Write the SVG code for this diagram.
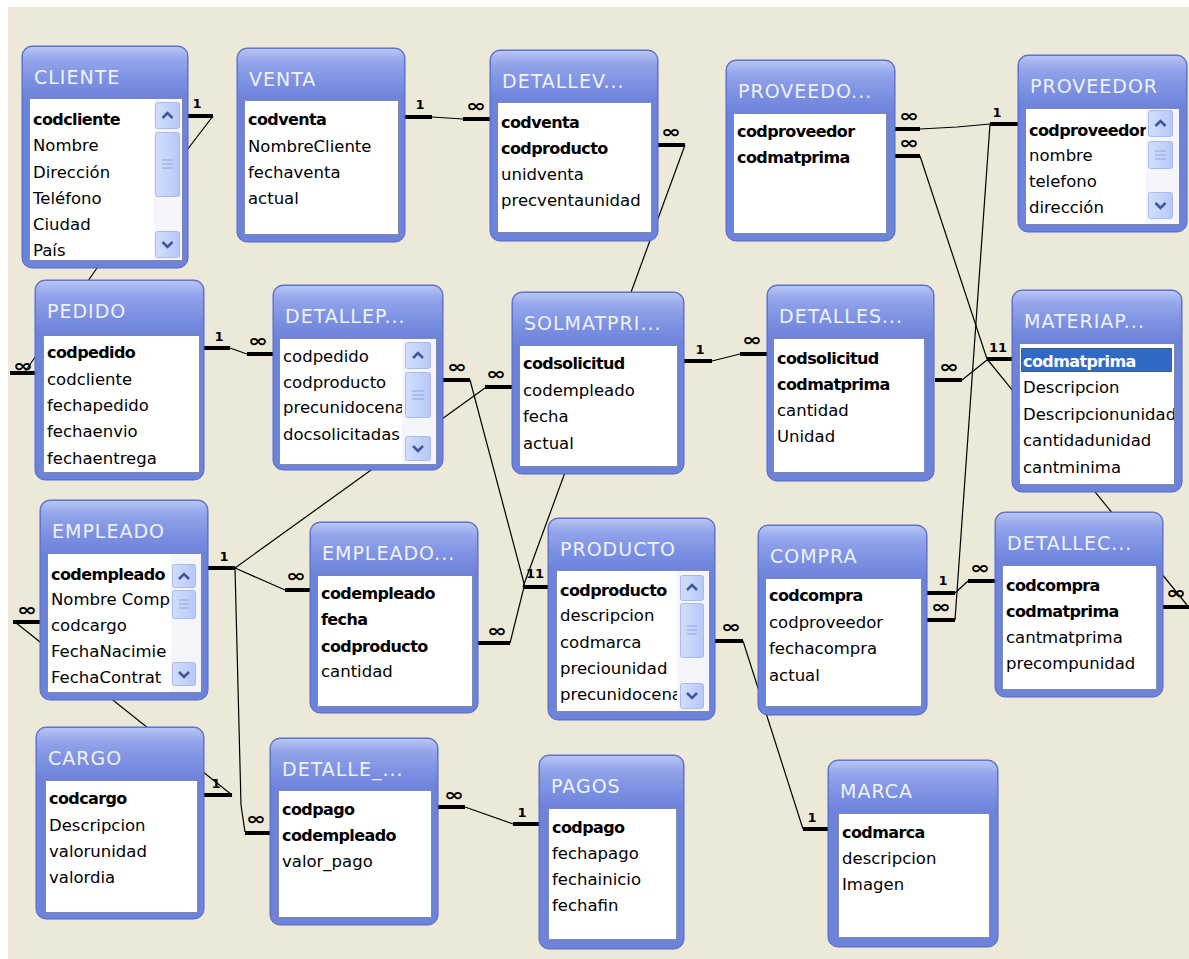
<svg xmlns="http://www.w3.org/2000/svg" width="1189" height="959" viewBox="0 0 1189 959">
<defs>
<linearGradient id="hg" x1="0" y1="0" x2="0" y2="1">
<stop offset="0" stop-color="#B9C5F4"/>
<stop offset="0.25" stop-color="#93A4EA"/>
<stop offset="0.7" stop-color="#7A8EE1"/>
<stop offset="1" stop-color="#6D82D9"/>
</linearGradient>
<linearGradient id="bg2" x1="0" y1="0" x2="1" y2="0">
<stop offset="0" stop-color="#D3DEFC"/>
<stop offset="1" stop-color="#B7C8F6"/>
</linearGradient>
<clipPath id="cm"><rect x="1020" y="344" width="154" height="140"/></clipPath>
<style>
.frame{fill:#6D82D9;stroke:#5569C6;stroke-width:1}
.hdr{fill:url(#hg)}
.inner{fill:#fff;stroke:#7F88AE;stroke-width:1}
.ttl{font-family:"DejaVu Sans",sans-serif;font-size:19px;letter-spacing:1px;fill:#EEF2FF}
.f{font-family:"DejaVu Sans",sans-serif;font-size:16.5px;fill:#000}
.k{font-weight:bold;font-size:16px;letter-spacing:-0.6px}
.trk{fill:#F4F6FC}
.btn{fill:url(#bg2);stroke:#A9BBEE;stroke-width:1}
.chev{fill:none;stroke:#3F55A0;stroke-width:2.5}
.grip{stroke:#8FA3DF;stroke-width:1}
.ln{fill:none;stroke:#000;stroke-width:1.2}
.stub{stroke:#000;stroke-width:4}
.one{font-family:"DejaVu Sans",sans-serif;font-weight:bold;font-size:13px;fill:#000;text-anchor:middle}
.many{font-family:"DejaVu Sans",sans-serif;font-weight:bold;font-size:18px;fill:#000;text-anchor:middle}
</style>
</defs>
<rect x="0" y="0" width="1189" height="959" fill="#fff"/>
<rect x="8" y="7" width="1181" height="952" fill="#ECE9D8"/>

<g id="connectors">
<polyline class="ln" points="213,116 97,268 24,373"/>
<line class="stub" x1="188" y1="116" x2="213" y2="116"/>
<text class="one" x="197" y="108">1</text>
<line class="stub" x1="10" y1="373" x2="36" y2="373"/>
<text class="many" x="23" y="372" textLength="20" lengthAdjust="spacingAndGlyphs">∞</text>

<line class="ln" x1="432" y1="117" x2="463" y2="119"/>
<line class="stub" x1="405" y1="117" x2="432" y2="117"/>
<text class="one" x="420" y="109">1</text>
<line class="stub" x1="463" y1="119" x2="490" y2="119"/>
<text class="many" x="476" y="112" textLength="20" lengthAdjust="spacingAndGlyphs">∞</text>

<line class="ln" x1="685" y1="145" x2="523" y2="587"/>
<line class="stub" x1="658" y1="145" x2="685" y2="145"/>
<text class="many" x="671" y="138" textLength="20" lengthAdjust="spacingAndGlyphs">∞</text>

<line class="ln" x1="470" y1="380" x2="525" y2="587"/>
<line class="stub" x1="443" y1="380" x2="470" y2="380"/>
<text class="many" x="457" y="373" textLength="20" lengthAdjust="spacingAndGlyphs">∞</text>

<line class="ln" x1="510" y1="643" x2="524" y2="587"/>
<line class="stub" x1="478" y1="643" x2="510" y2="643"/>
<text class="many" x="497" y="637" textLength="20" lengthAdjust="spacingAndGlyphs">∞</text>
<line class="stub" x1="523" y1="587" x2="548" y2="587"/>
<text class="one" x="535" y="578">11</text>

<line class="ln" x1="230" y1="348" x2="247" y2="354"/>
<line class="stub" x1="204" y1="348" x2="230" y2="348"/>
<text class="one" x="219" y="341">1</text>
<line class="stub" x1="247" y1="354" x2="273" y2="354"/>
<text class="many" x="258" y="347" textLength="20" lengthAdjust="spacingAndGlyphs">∞</text>

<line class="ln" x1="485" y1="388" x2="235" y2="568"/>
<line class="stub" x1="485" y1="387" x2="512" y2="387"/>
<text class="many" x="496" y="380" textLength="20" lengthAdjust="spacingAndGlyphs">∞</text>
<line class="stub" x1="208" y1="568" x2="235" y2="568"/>
<text class="one" x="224" y="561">1</text>

<line class="ln" x1="235" y1="568" x2="285" y2="590"/>
<line class="stub" x1="285" y1="590" x2="310" y2="590"/>
<text class="many" x="296" y="582" textLength="20" lengthAdjust="spacingAndGlyphs">∞</text>

<polyline class="ln" points="235,568 241,805 245,832"/>
<line class="stub" x1="245" y1="833" x2="270" y2="833"/>
<text class="many" x="256" y="825" textLength="20" lengthAdjust="spacingAndGlyphs">∞</text>

<line class="ln" x1="15" y1="622" x2="232" y2="795"/>
<line class="stub" x1="204" y1="795" x2="232" y2="795"/>
<text class="one" x="216" y="788">1</text>
<line class="stub" x1="13" y1="622" x2="40" y2="622"/>
<text class="many" x="27" y="616" textLength="20" lengthAdjust="spacingAndGlyphs">∞</text>

<line class="ln" x1="712" y1="361" x2="740" y2="354"/>
<line class="stub" x1="684" y1="361" x2="712" y2="361"/>
<text class="one" x="700" y="354">1</text>
<line class="stub" x1="740" y1="354" x2="767" y2="354"/>
<text class="many" x="752" y="346" textLength="20" lengthAdjust="spacingAndGlyphs">∞</text>

<line class="ln" x1="962" y1="380" x2="987" y2="360"/>
<line class="ln" x1="920" y1="156" x2="987" y2="359"/>
<line class="ln" x1="987" y1="359" x2="1187" y2="605"/>
<line class="stub" x1="935" y1="380" x2="962" y2="380"/>
<text class="many" x="949" y="373" textLength="20" lengthAdjust="spacingAndGlyphs">∞</text>
<line class="stub" x1="987" y1="359" x2="1012" y2="359"/>
<text class="one" x="998" y="352">11</text>

<line class="stub" x1="895" y1="156" x2="920" y2="156"/>
<text class="many" x="909" y="149" textLength="20" lengthAdjust="spacingAndGlyphs">∞</text>
<polyline class="ln" points="920,129 957,127 990,124"/>
<line class="stub" x1="895" y1="129" x2="920" y2="129"/>
<text class="many" x="909" y="122" textLength="20" lengthAdjust="spacingAndGlyphs">∞</text>
<line class="stub" x1="990" y1="124" x2="1018" y2="124"/>
<text class="one" x="997" y="117">1</text>

<line class="ln" x1="990" y1="124" x2="955" y2="620"/>
<line class="stub" x1="927" y1="620" x2="955" y2="620"/>
<text class="many" x="941" y="613" textLength="20" lengthAdjust="spacingAndGlyphs">∞</text>

<line class="ln" x1="955" y1="593" x2="968" y2="581"/>
<line class="stub" x1="927" y1="593" x2="955" y2="593"/>
<text class="one" x="943" y="585">1</text>
<line class="stub" x1="968" y1="581" x2="995" y2="581"/>
<text class="many" x="980" y="574" textLength="20" lengthAdjust="spacingAndGlyphs">∞</text>

<line class="stub" x1="1163" y1="607" x2="1189" y2="607"/>
<text class="many" x="1176" y="599" textLength="20" lengthAdjust="spacingAndGlyphs">∞</text>

<line class="ln" x1="743" y1="641" x2="803" y2="829"/>
<line class="stub" x1="715" y1="641" x2="743" y2="641"/>
<text class="many" x="731" y="633" textLength="20" lengthAdjust="spacingAndGlyphs">∞</text>
<line class="stub" x1="803" y1="829" x2="828" y2="829"/>
<text class="one" x="812" y="822">1</text>

<line class="ln" x1="465" y1="807" x2="513" y2="824"/>
<line class="stub" x1="438" y1="807" x2="465" y2="807"/>
<text class="many" x="454" y="801" textLength="20" lengthAdjust="spacingAndGlyphs">∞</text>
<line class="stub" x1="513" y1="824" x2="539" y2="824"/>
<text class="one" x="522" y="817">1</text>
</g>

<g id="t-cliente">
<rect class="frame" x="22" y="46" width="166" height="222" rx="10"/>
<rect class="hdr" x="23" y="47" width="164" height="51" rx="9"/>
<text class="ttl" x="34" y="84">CLIENTE</text>
<rect class="inner" x="29.5" y="98.5" width="153" height="162"/>
<text class="f k" x="33" y="125">codcliente</text>
<text class="f" x="33" y="151">Nombre</text>
<text class="f" x="33" y="178">Dirección</text>
<text class="f" x="33" y="204">Teléfono</text>
<text class="f" x="33" y="230">Ciudad</text>
<text class="f" x="33" y="256">País</text>
<rect class="trk" x="154" y="99" width="28" height="161"/>
<rect class="btn" x="155.5" y="102.5" width="24" height="26" rx="2"/>
<path class="chev" d="M162.5,118 L167.5,113 L172.5,118"/>
<rect class="btn" x="155.5" y="132.5" width="24" height="64" rx="2"/>
<path class="grip" d="M162,160H173M162,164H173M162,168H173"/>
<rect class="btn" x="155.5" y="231.5" width="24" height="26" rx="2"/>
<path class="chev" d="M162.5,242 L167.5,247 L172.5,242"/>
</g>

<g id="t-venta">
<rect class="frame" x="237" y="48" width="168" height="194" rx="10"/>
<rect class="hdr" x="238" y="49" width="166" height="51" rx="9"/>
<text class="ttl" x="249" y="86">VENTA</text>
<rect class="inner" x="244.5" y="100.5" width="154" height="134"/>
<text class="f k" x="248" y="125">codventa</text>
<text class="f" x="248" y="152">NombreCliente</text>
<text class="f" x="248" y="178">fechaventa</text>
<text class="f" x="248" y="204">actual</text>
</g>

<g id="t-detallev">
<rect class="frame" x="490" y="50" width="168" height="191" rx="10"/>
<rect class="hdr" x="491" y="51" width="166" height="51" rx="9"/>
<text class="ttl" x="502" y="88">DETALLEV...</text>
<rect class="inner" x="497.5" y="102.5" width="154" height="130"/>
<text class="f k" x="501" y="128">codventa</text>
<text class="f k" x="501" y="154">codproducto</text>
<text class="f" x="501" y="180">unidventa</text>
<text class="f" x="501" y="206">precventaunidad</text>
</g>

<g id="t-proveedo">
<rect class="frame" x="726" y="60" width="169" height="181" rx="10"/>
<rect class="hdr" x="727" y="61" width="167" height="52" rx="9"/>
<text class="ttl" x="738" y="98">PROVEEDO...</text>
<rect class="inner" x="733.5" y="113.5" width="153" height="120"/>
<text class="f k" x="737" y="137">codproveedor</text>
<text class="f k" x="737" y="163">codmatprima</text>
</g>

<g id="t-proveedor">
<rect class="frame" x="1018" y="55" width="169" height="177" rx="10"/>
<rect class="hdr" x="1019" y="56" width="167" height="52" rx="9"/>
<text class="ttl" x="1030" y="93">PROVEEDOR</text>
<rect class="inner" x="1025.5" y="108.5" width="154" height="116"/>
<text class="f k" x="1029" y="136">codproveedor</text>
<text class="f" x="1029" y="161">nombre</text>
<text class="f" x="1029" y="187">telefono</text>
<text class="f" x="1029" y="213">dirección</text>
<rect class="trk" x="1146" y="109" width="33" height="115"/>
<rect class="btn" x="1148.5" y="110.5" width="24" height="26" rx="2"/>
<path class="chev" d="M1155.5,126 L1160.5,121 L1165.5,126"/>
<rect class="btn" x="1148.5" y="141.5" width="24" height="27" rx="2"/>
<path class="grip" d="M1155,151H1166M1155,155H1166M1155,159H1166"/>
<rect class="btn" x="1148.5" y="192.5" width="24" height="26" rx="2"/>
<path class="chev" d="M1155.5,203 L1160.5,208 L1165.5,203"/>
</g>

<g id="t-pedido">
<rect class="frame" x="35" y="280" width="169" height="200" rx="10"/>
<rect class="hdr" x="36" y="281" width="167" height="54" rx="9"/>
<text class="ttl" x="47" y="318">PEDIDO</text>
<rect class="inner" x="43.5" y="335.5" width="156" height="137"/>
<text class="f k" x="47" y="358">codpedido</text>
<text class="f" x="47" y="385">codcliente</text>
<text class="f" x="47" y="411">fechapedido</text>
<text class="f" x="47" y="437">fechaenvio</text>
<text class="f" x="47" y="464">fechaentrega</text>
</g>

<g id="t-detallep">
<rect class="frame" x="273" y="285" width="170" height="185" rx="10"/>
<rect class="hdr" x="274" y="286" width="168" height="52" rx="9"/>
<text class="ttl" x="285" y="323">DETALLEP...</text>
<rect class="inner" x="279.5" y="338.5" width="157" height="126"/>
<text class="f" x="283" y="362">codpedido</text>
<text class="f" x="283" y="388">codproducto</text>
<text class="f" x="283" y="413">precunidocena</text>
<text class="f" x="283" y="440">docsolicitadas</text>
<rect class="trk" x="402" y="339" width="34" height="125"/>
<rect class="btn" x="405.5" y="342.5" width="25" height="26" rx="2"/>
<path class="chev" d="M413,358 L418,353 L423,358"/>
<rect class="btn" x="405.5" y="372.5" width="25" height="45" rx="2"/>
<path class="grip" d="M412,391H424M412,395H424M412,399H424"/>
<rect class="btn" x="405.5" y="436.5" width="25" height="24" rx="2"/>
<path class="chev" d="M413,446 L418,451 L423,446"/>
</g>

<g id="t-solmatpri">
<rect class="frame" x="512" y="292" width="172" height="182" rx="10"/>
<rect class="hdr" x="513" y="293" width="170" height="52" rx="9"/>
<text class="ttl" x="524" y="330">SOLMATPRI...</text>
<rect class="inner" x="519.5" y="345.5" width="158" height="121"/>
<text class="f k" x="523" y="369">codsolicitud</text>
<text class="f" x="523" y="396">codempleado</text>
<text class="f" x="523" y="422">fecha</text>
<text class="f" x="523" y="449">actual</text>
</g>

<g id="t-detalles">
<rect class="frame" x="767" y="285" width="167" height="196" rx="10"/>
<rect class="hdr" x="768" y="286" width="165" height="52" rx="9"/>
<text class="ttl" x="779" y="323">DETALLES...</text>
<rect class="inner" x="773.5" y="338.5" width="151" height="134"/>
<text class="f k" x="777" y="364">codsolicitud</text>
<text class="f k" x="777" y="390">codmatprima</text>
<text class="f" x="777" y="416">cantidad</text>
<text class="f" x="777" y="442">Unidad</text>
</g>

<g id="t-materiap">
<rect class="frame" x="1012" y="290" width="170" height="202" rx="10"/>
<rect class="hdr" x="1013" y="291" width="168" height="52" rx="9"/>
<text class="ttl" x="1024" y="328">MATERIAP...</text>
<rect class="inner" x="1019.5" y="343.5" width="155" height="141"/>
<rect x="1021.5" y="348.5" width="150" height="23" fill="#316AC5" stroke="#000" stroke-dasharray="1,1"/>
<g clip-path="url(#cm)">
<text class="f k" x="1023" y="367" style="fill:#fff">codmatprima</text>
<text class="f" x="1023" y="393">Descripcion</text>
<text class="f" x="1023" y="420">Descripcionunidad</text>
<text class="f" x="1023" y="446">cantidadunidad</text>
<text class="f" x="1023" y="473">cantminima</text>
</g>
</g>

<g id="t-empleado">
<rect class="frame" x="40" y="500" width="168" height="200" rx="10"/>
<rect class="hdr" x="41" y="501" width="166" height="52" rx="9"/>
<text class="ttl" x="52" y="538">EMPLEADO</text>
<rect class="inner" x="47.5" y="553.5" width="154" height="139"/>
<text class="f k" x="51" y="580">codempleado</text>
<text class="f" x="51" y="605">Nombre Comp</text>
<text class="f" x="51" y="631">codcargo</text>
<text class="f" x="51" y="657">FechaNacimie</text>
<text class="f" x="51" y="683">FechaContrat</text>
<rect class="trk" x="171" y="554" width="30" height="138"/>
<rect class="btn" x="172.5" y="564.5" width="23" height="23" rx="2"/>
<path class="chev" d="M179,579 L184,574 L189,579"/>
<rect class="btn" x="172.5" y="590.5" width="23" height="28" rx="2"/>
<path class="grip" d="M179,600H189M179,604H189M179,608H189"/>
<rect class="btn" x="172.5" y="662.5" width="23" height="23" rx="2"/>
<path class="chev" d="M179,672 L184,677 L189,672"/>
</g>

<g id="t-empleado2">
<rect class="frame" x="310" y="522" width="168" height="191" rx="10"/>
<rect class="hdr" x="311" y="523" width="166" height="52" rx="9"/>
<text class="ttl" x="322" y="560">EMPLEADO...</text>
<rect class="inner" x="317.5" y="575.5" width="155" height="131"/>
<text class="f k" x="321" y="599">codempleado</text>
<text class="f k" x="321" y="625">fecha</text>
<text class="f k" x="321" y="652">codproducto</text>
<text class="f" x="321" y="677">cantidad</text>
</g>

<g id="t-producto">
<rect class="frame" x="548" y="518" width="167" height="202" rx="10"/>
<rect class="hdr" x="549" y="519" width="165" height="51" rx="9"/>
<text class="ttl" x="560" y="556">PRODUCTO</text>
<rect class="inner" x="556.5" y="570.5" width="153" height="141"/>
<text class="f k" x="560" y="596">codproducto</text>
<text class="f" x="560" y="621">descripcion</text>
<text class="f" x="560" y="648">codmarca</text>
<text class="f" x="560" y="674">preciounidad</text>
<text class="f" x="560" y="700">precunidocena</text>
<rect class="trk" x="677" y="571" width="32" height="140"/>
<rect class="btn" x="680.5" y="575.5" width="23" height="25" rx="2"/>
<path class="chev" d="M687,590 L692,585 L697,590"/>
<rect class="btn" x="680.5" y="603.5" width="23" height="54" rx="2"/>
<path class="grip" d="M687,626H697M687,630H697M687,634H697"/>
<rect class="btn" x="680.5" y="683.5" width="23" height="25" rx="2"/>
<path class="chev" d="M687,693 L692,698 L697,693"/>
</g>

<g id="t-compra">
<rect class="frame" x="758" y="525" width="169" height="190" rx="10"/>
<rect class="hdr" x="759" y="526" width="167" height="52" rx="9"/>
<text class="ttl" x="770" y="563">COMPRA</text>
<rect class="inner" x="765.5" y="578.5" width="156" height="128"/>
<text class="f k" x="769" y="601">codcompra</text>
<text class="f" x="769" y="628">codproveedor</text>
<text class="f" x="769" y="654">fechacompra</text>
<text class="f" x="769" y="681">actual</text>
</g>

<g id="t-detallec">
<rect class="frame" x="995" y="512" width="168" height="185" rx="10"/>
<rect class="hdr" x="996" y="513" width="166" height="52" rx="9"/>
<text class="ttl" x="1007" y="550">DETALLEC...</text>
<rect class="inner" x="1002.5" y="565.5" width="154" height="124"/>
<text class="f k" x="1006" y="591">codcompra</text>
<text class="f k" x="1006" y="617">codmatprima</text>
<text class="f" x="1006" y="643">cantmatprima</text>
<text class="f" x="1006" y="669">precompunidad</text>
</g>

<g id="t-cargo">
<rect class="frame" x="36" y="727" width="168" height="192" rx="10"/>
<rect class="hdr" x="37" y="728" width="166" height="52" rx="9"/>
<text class="ttl" x="48" y="765">CARGO</text>
<rect class="inner" x="45.5" y="780.5" width="152" height="132"/>
<text class="f k" x="49" y="804">codcargo</text>
<text class="f" x="49" y="831">Descripcion</text>
<text class="f" x="49" y="857">valorunidad</text>
<text class="f" x="49" y="883">valordia</text>
</g>

<g id="t-detalle-pago">
<rect class="frame" x="270" y="738" width="168" height="187" rx="10"/>
<rect class="hdr" x="271" y="739" width="166" height="51" rx="9"/>
<text class="ttl" x="282" y="776">DETALLE_...</text>
<rect class="inner" x="278.5" y="790.5" width="153" height="127"/>
<text class="f k" x="282" y="815">codpago</text>
<text class="f k" x="282" y="841">codempleado</text>
<text class="f" x="282" y="867">valor_pago</text>
</g>

<g id="t-pagos">
<rect class="frame" x="539" y="755" width="145" height="194" rx="10"/>
<rect class="hdr" x="540" y="756" width="143" height="52" rx="9"/>
<text class="ttl" x="551" y="793">PAGOS</text>
<rect class="inner" x="548.5" y="808.5" width="128" height="131"/>
<text class="f k" x="552" y="833">codpago</text>
<text class="f" x="552" y="859">fechapago</text>
<text class="f" x="552" y="885">fechainicio</text>
<text class="f" x="552" y="911">fechafin</text>
</g>

<g id="t-marca">
<rect class="frame" x="828" y="760" width="170" height="187" rx="10"/>
<rect class="hdr" x="829" y="761" width="168" height="52" rx="9"/>
<text class="ttl" x="840" y="798">MARCA</text>
<rect class="inner" x="838.5" y="813.5" width="151" height="124"/>
<text class="f k" x="842" y="838">codmarca</text>
<text class="f" x="842" y="864">descripcion</text>
<text class="f" x="842" y="890">Imagen</text>
</g>
</svg>
